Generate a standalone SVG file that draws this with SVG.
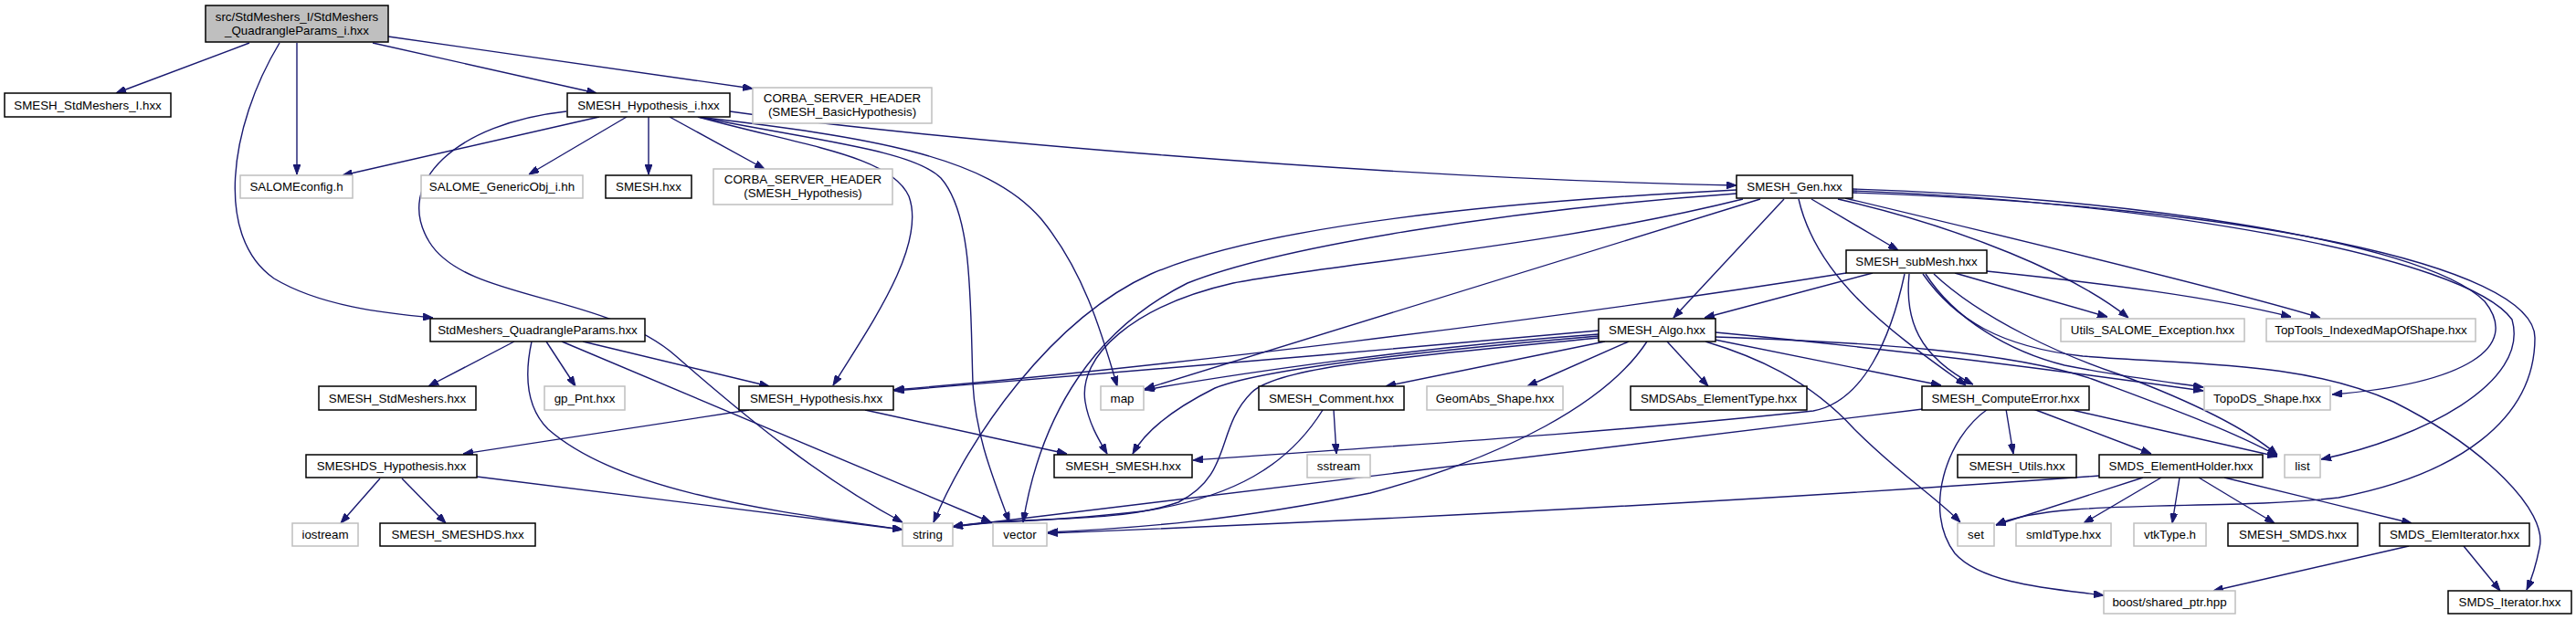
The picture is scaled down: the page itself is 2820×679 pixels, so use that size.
<svg xmlns="http://www.w3.org/2000/svg" width="2820" height="679" viewBox="0 0 2820 679">
<defs>
<marker id="ah" markerUnits="userSpaceOnUse" markerWidth="11" markerHeight="8" refX="11" refY="4" orient="auto">
<path d="M0,0 L11,4 L0,8 z" fill="#191970" stroke="#191970" stroke-width="1"/>
</marker>
<style>
.c path{fill:none;stroke:#191970;stroke-width:1.4;marker-end:url(#ah)}
.d rect{fill:#ffffff;stroke:#000000;stroke-width:1.5}
.x rect{fill:#ffffff;stroke:#bfbfbf;stroke-width:1.5}
.r rect{fill:#bfbfbf;stroke:#000000;stroke-width:1.5}
text{font-family:"Liberation Sans",Arial,Helvetica,sans-serif;font-size:13.33px;fill:#000000;text-anchor:middle}
</style>
</defs>
<rect x="0" y="0" width="2820" height="679" fill="#ffffff"/>
<g id="connectors" class="c">
<path d="M273,47 L127,102"/>
<path d="M306,47 C250,140 235,260 300,305 C350,335 420,343 474,348"/>
<path d="M325,47 L325,191"/>
<path d="M408,47 L653,102"/>
<path d="M425,40 L824,97"/>
<path d="M656,128 L375,192"/>
<path d="M686,128 L579,191"/>
<path d="M710,128 L710,191"/>
<path d="M733,128 L837,185"/>
<path d="M620,122 C500,135 430,200 470,265 C510,330 660,320 740,390 C820,460 900,525 988,572"/>
<path d="M764,128 C880,160 975,170 995,215 C1015,270 950,360 912,422"/>
<path d="M764,128 C950,150 1080,170 1140,240 C1185,295 1205,360 1223,423"/>
<path d="M764,128 C900,155 1000,165 1030,195 C1065,235 1062,330 1065,420 C1068,480 1090,530 1105,572"/>
<path d="M799,122 C1000,150 1500,195 1901,203"/>
<path d="M563,374 L469,423"/>
<path d="M582,374 C572,420 580,450 600,470 C680,540 850,560 988,580"/>
<path d="M598,374 L630,423"/>
<path d="M615,374 L1085,572"/>
<path d="M638,374 L842,423"/>
<path d="M820,449 L507,497"/>
<path d="M947,449 L1168,497"/>
<path d="M416,524 L373,573"/>
<path d="M440,524 L488,573"/>
<path d="M522,522 L988,580"/>
<path d="M1901,208 C1700,218 1400,240 1260,300 C1150,350 1060,480 1022,572"/>
<path d="M1901,212 C1650,230 1400,270 1300,310 C1200,360 1140,450 1120,572"/>
<path d="M1908,218 C1700,270 1450,290 1350,310 C1240,335 1180,390 1188,440 C1192,465 1205,485 1212,497"/>
<path d="M1927,218 L1253,426"/>
<path d="M1953,218 L1832,348"/>
<path d="M1969,218 C1990,310 2080,370 2152,422"/>
<path d="M1983,218 L2078,274"/>
<path d="M2012,218 C2150,250 2270,300 2330,348"/>
<path d="M2020,217 C2200,260 2450,320 2540,348"/>
<path d="M2028,207 C2300,215 2650,260 2720,330 C2760,380 2700,420 2553,432"/>
<path d="M2028,209 C2350,220 2700,280 2750,350 C2770,420 2650,480 2541,503"/>
<path d="M2028,211 C2450,225 2775,290 2775,370 C2775,460 2690,520 2560,545 C2430,560 2250,545 2185,575"/>
<path d="M2021,299 C1700,350 1250,405 978,427"/>
<path d="M2050,299 L1866,348"/>
<path d="M2085,300 C2070,370 2040,440 1985,450 C1750,475 1500,490 1306,504"/>
<path d="M2090,300 C2085,350 2100,390 2160,421"/>
<path d="M2140,299 L2307,347"/>
<path d="M2175,297 C2300,310 2420,325 2508,347"/>
<path d="M2108,300 C2140,350 2200,385 2260,400 C2320,412 2370,418 2412,424"/>
<path d="M2117,300 C2170,350 2260,390 2320,410 C2400,440 2460,470 2493,498"/>
<path d="M2105,300 C2140,350 2190,380 2280,390 C2400,400 2520,395 2620,440 C2720,490 2790,560 2780,600 C2776,620 2771,635 2766,646"/>
<path d="M1750,366 C1550,380 1350,410 1253,427"/>
<path d="M1750,362 C1500,385 1200,410 979,428"/>
<path d="M1750,368 C1550,385 1380,405 1330,425 C1290,445 1255,470 1240,497"/>
<path d="M1750,370 C1550,390 1400,400 1370,430 C1330,470 1350,520 1290,550 C1220,575 1100,565 1043,577"/>
<path d="M1757,374 L1517,423"/>
<path d="M1783,374 L1672,423"/>
<path d="M1803,374 C1760,440 1650,500 1500,540 C1350,570 1250,578 1147,583"/>
<path d="M1825,374 L1870,423"/>
<path d="M1877,372 L2125,422"/>
<path d="M1867,374 C1920,390 1980,415 2030,470 C2080,520 2120,545 2146,572"/>
<path d="M1878,364 C2050,380 2250,405 2412,428"/>
<path d="M1878,369 C2050,375 2200,385 2290,415 C2370,445 2440,470 2493,499"/>
<path d="M1460,449 L1463,497"/>
<path d="M1448,449 C1410,510 1350,545 1250,560 C1150,572 1080,570 1043,577"/>
<path d="M2105,448 L1043,577"/>
<path d="M2176,448 C2130,480 2105,560 2140,606 C2170,640 2250,645 2303,652"/>
<path d="M2196,448 L2204,497"/>
<path d="M2226,448 L2355,497"/>
<path d="M2264,448 L2493,500"/>
<path d="M2298,521 C1900,550 1500,570 1147,584"/>
<path d="M2346,523 L2185,575"/>
<path d="M2366,523 L2281,573"/>
<path d="M2386,523 L2378,573"/>
<path d="M2407,523 L2490,573"/>
<path d="M2435,523 L2640,573"/>
<path d="M2637,598 L2423,647"/>
<path d="M2697,598 L2737,647"/>
</g>
<g id="root" class="r"><rect x="225" y="6" width="200" height="40"/><text x="325" y="23">src/StdMeshers_I/StdMeshers</text><text x="325" y="38">_QuadrangleParams_i.hxx</text></g>
<g id="n1" class="d"><rect x="5" y="102" width="182" height="26"/><text x="96" y="119.6">SMESH_StdMeshers_I.hxx</text></g>
<g id="n2" class="d"><rect x="621" y="102" width="178" height="26"/><text x="710" y="119.6">SMESH_Hypothesis_i.hxx</text></g>
<g id="n3" class="x"><rect x="824" y="96" width="196" height="39"/><text x="922" y="111.5">CORBA_SERVER_HEADER</text><text x="922" y="126.5">(SMESH_BasicHypothesis)</text></g>
<g id="n4" class="x"><rect x="263" y="192" width="123" height="25"/><text x="324.5" y="209.1">SALOMEconfig.h</text></g>
<g id="n5" class="x"><rect x="461" y="192" width="177" height="25"/><text x="549.5" y="209.1">SALOME_GenericObj_i.hh</text></g>
<g id="n6" class="d"><rect x="663" y="192" width="94" height="25"/><text x="710" y="209.1">SMESH.hxx</text></g>
<g id="n7" class="x"><rect x="781" y="185" width="196" height="39"/><text x="879" y="201">CORBA_SERVER_HEADER</text><text x="879" y="216">(SMESH_Hypothesis)</text></g>
<g id="n8" class="d"><rect x="1901" y="192" width="127" height="25"/><text x="1964.5" y="209.1">SMESH_Gen.hxx</text></g>
<g id="n9" class="d"><rect x="2021" y="274" width="154" height="25"/><text x="2098" y="291.1">SMESH_subMesh.hxx</text></g>
<g id="n10" class="d"><rect x="471" y="349" width="235" height="25"/><text x="588.5" y="366.1">StdMeshers_QuadrangleParams.hxx</text></g>
<g id="n11" class="d"><rect x="1750" y="349" width="128" height="25"/><text x="1814" y="366.1">SMESH_Algo.hxx</text></g>
<g id="n12" class="x"><rect x="2256" y="349" width="201" height="25"/><text x="2356.5" y="366.1">Utils_SALOME_Exception.hxx</text></g>
<g id="n13" class="x"><rect x="2481" y="349" width="229" height="25"/><text x="2595.5" y="366.1">TopTools_IndexedMapOfShape.hxx</text></g>
<g id="n14" class="d"><rect x="349" y="423" width="172" height="26"/><text x="435" y="440.6">SMESH_StdMeshers.hxx</text></g>
<g id="n15" class="x"><rect x="596" y="423" width="88" height="26"/><text x="640" y="440.6">gp_Pnt.hxx</text></g>
<g id="n16" class="d"><rect x="809" y="423" width="169" height="26"/><text x="893.5" y="440.6">SMESH_Hypothesis.hxx</text></g>
<g id="n17" class="x"><rect x="1205" y="423" width="47" height="26"/><text x="1228.5" y="440.6">map</text></g>
<g id="n18" class="d"><rect x="1378" y="423" width="159" height="26"/><text x="1457.5" y="440.6">SMESH_Comment.hxx</text></g>
<g id="n19" class="x"><rect x="1562" y="423" width="149" height="26"/><text x="1636.5" y="440.6">GeomAbs_Shape.hxx</text></g>
<g id="n20" class="d"><rect x="1785" y="423" width="193" height="26"/><text x="1881.5" y="440.6">SMDSAbs_ElementType.hxx</text></g>
<g id="n21" class="d"><rect x="2104" y="423" width="183" height="26"/><text x="2195.5" y="440.6">SMESH_ComputeError.hxx</text></g>
<g id="n22" class="x"><rect x="2413" y="423" width="138" height="26"/><text x="2482" y="440.6">TopoDS_Shape.hxx</text></g>
<g id="n23" class="d"><rect x="335" y="498" width="187" height="25"/><text x="428.5" y="515.1">SMESHDS_Hypothesis.hxx</text></g>
<g id="n24" class="d"><rect x="1154" y="498" width="151" height="25"/><text x="1229.5" y="515.1">SMESH_SMESH.hxx</text></g>
<g id="n25" class="x"><rect x="1431" y="498" width="69" height="25"/><text x="1465.5" y="515.1">sstream</text></g>
<g id="n26" class="d"><rect x="2143" y="498" width="130" height="25"/><text x="2208" y="515.1">SMESH_Utils.hxx</text></g>
<g id="n27" class="d"><rect x="2298" y="498" width="179" height="25"/><text x="2387.5" y="515.1">SMDS_ElementHolder.hxx</text></g>
<g id="n28" class="x"><rect x="2501" y="498" width="39" height="25"/><text x="2520.5" y="515.1">list</text></g>
<g id="n29" class="x"><rect x="320" y="573" width="72" height="25"/><text x="356" y="590.1">iostream</text></g>
<g id="n30" class="d"><rect x="416" y="573" width="170" height="25"/><text x="501" y="590.1">SMESH_SMESHDS.hxx</text></g>
<g id="n31" class="x"><rect x="988" y="573" width="55" height="25"/><text x="1015.5" y="590.1">string</text></g>
<g id="n32" class="x"><rect x="1087" y="573" width="59" height="25"/><text x="1116.5" y="590.1">vector</text></g>
<g id="n33" class="x"><rect x="2143" y="573" width="40" height="25"/><text x="2163" y="590.1">set</text></g>
<g id="n34" class="x"><rect x="2207" y="573" width="104" height="25"/><text x="2259" y="590.1">smIdType.hxx</text></g>
<g id="n35" class="x"><rect x="2336" y="573" width="79" height="25"/><text x="2375.5" y="590.1">vtkType.h</text></g>
<g id="n36" class="d"><rect x="2439" y="573" width="142" height="25"/><text x="2510" y="590.1">SMESH_SMDS.hxx</text></g>
<g id="n37" class="d"><rect x="2605" y="573" width="164" height="25"/><text x="2687" y="590.1">SMDS_ElemIterator.hxx</text></g>
<g id="n38" class="x"><rect x="2303" y="647" width="144" height="25"/><text x="2375" y="664.1">boost/shared_ptr.hpp</text></g>
<g id="n39" class="d"><rect x="2680" y="647" width="135" height="25"/><text x="2747.5" y="664.1">SMDS_Iterator.hxx</text></g>
</svg>
